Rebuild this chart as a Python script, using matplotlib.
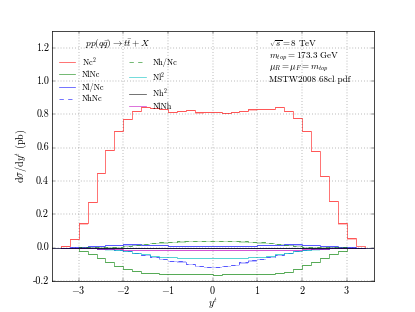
import numpy as np
import matplotlib
matplotlib.use("Agg")
import matplotlib.pyplot as plt

plt.style.use("classic")
plt.rcParams["font.family"] = "serif"
plt.rcParams["font.serif"] = ["cmr10", "DejaVu Serif"]
plt.rcParams["mathtext.fontset"] = "cm"
plt.rcParams["axes.formatter.use_mathtext"] = True

# bin edges in y^t (34 bins of width 0.2)
edges = np.linspace(-3.4, 3.4, 35)

nc2 = [0.012, 0.052, 0.145, 0.275, 0.450, 0.585, 0.700, 0.775, 0.822, 0.846,
       0.838, 0.834, 0.816, 0.822, 0.826, 0.812, 0.814, 0.816, 0.808, 0.814,
       0.822, 0.830, 0.834, 0.832, 0.846, 0.822, 0.778, 0.700, 0.583, 0.430,
       0.280, 0.145, 0.055, 0.012]
nlnc = [-0.002, -0.004, -0.018, -0.038, -0.064, -0.088, -0.111, -0.129, -0.143, -0.151,
        -0.155, -0.157, -0.158, -0.159, -0.159, -0.160, -0.158, -0.167, -0.160, -0.159,
        -0.159, -0.158, -0.158, -0.157, -0.153, -0.145, -0.127, -0.107, -0.087, -0.062,
        -0.038, -0.018, -0.004, -0.002]
nl_nc = [0.000, 0.001, 0.003, 0.007, 0.012, 0.016, 0.018, 0.019, 0.019, 0.018,
         0.016, 0.014, 0.012, 0.010, 0.009, 0.008, 0.008, 0.008, 0.008, 0.009,
         0.010, 0.012, 0.014, 0.016, 0.018, 0.019, 0.019, 0.018, 0.016, 0.012,
         0.007, 0.003, 0.001, 0.000]
nhnc = [0.000, -0.001, -0.002, -0.004, -0.006, -0.009, -0.013, -0.018, -0.030, -0.042,
        -0.056, -0.070, -0.082, -0.084, -0.100, -0.110, -0.117, -0.117, -0.110, -0.103,
        -0.090, -0.078, -0.068, -0.056, -0.042, -0.030, -0.018, -0.013, -0.009, -0.006,
        -0.004, -0.002, -0.001, 0.000]
nh_nc = [0.000, 0.000, 0.001, 0.002, 0.003, 0.004, 0.005, 0.009, 0.014, 0.020,
         0.026, 0.031, 0.035, 0.037, 0.038, 0.038, 0.039, 0.039, 0.038, 0.038,
         0.037, 0.035, 0.031, 0.026, 0.020, 0.014, 0.009, 0.005, 0.004, 0.003,
         0.002, 0.001, 0.000, 0.000]
nl2 = [0.000, -0.001, -0.002, -0.004, -0.007, -0.011, -0.016, -0.022, -0.030, -0.040,
       -0.048, -0.054, -0.058, -0.060, -0.062, -0.062, -0.063, -0.063, -0.062, -0.062,
       -0.060, -0.058, -0.054, -0.048, -0.040, -0.030, -0.022, -0.016, -0.011, -0.007,
       -0.004, -0.002, -0.001, 0.000]
nh2 = [0.000, 0.000, -0.001, -0.001, -0.001, -0.002, -0.002, -0.002, -0.003, -0.003,
       -0.003, -0.003, -0.003, -0.003, -0.003, -0.003, -0.003, -0.003, -0.003, -0.003,
       -0.003, -0.003, -0.003, -0.003, -0.003, -0.003, -0.002, -0.002, -0.002, -0.001,
       -0.001, -0.001, 0.000, 0.000]
nlnh = [0.000, -0.001, -0.002, -0.004, -0.006, -0.008, -0.010, -0.012, -0.014, -0.015,
        -0.016, -0.016, -0.016, -0.016, -0.016, -0.016, -0.016, -0.016, -0.016, -0.016,
        -0.016, -0.016, -0.016, -0.016, -0.015, -0.014, -0.012, -0.010, -0.008, -0.006,
        -0.004, -0.002, -0.001, 0.000]

series = [
    (nc2, r"Nc$^2$", "red", "-"),
    (nlnc, "NlNc", "green", "-"),
    (nl_nc, "Nl/Nc", "blue", "-"),
    (nhnc, "NhNc", "blue", "--"),
    (nh_nc, "Nh/Nc", "green", "--"),
    (nl2, r"Nl$^2$", "c", "-"),
    (nh2, r"Nh$^2$", "k", "-"),
    (nlnh, "NlNh", "m", "-"),
]

fig = plt.figure(figsize=(415 / 52, 312 / 52), dpi=52)
ax = fig.add_subplot(111)

ax.axhline(0, color="#000033", lw=1)
for vals, lab, col, ls in series:
    vals = np.array(vals)
    ax.fill_between(edges[:-1], vals - 0.007, vals, step="post", color=col,
                    alpha=0.25, lw=0)
    ax.stairs(vals, edges, color=col, ls=ls, lw=1, alpha=0.75, label=lab)

ax.set_xlim(-3.6, 3.6)
ax.set_ylim(-0.2, 1.3)
ax.set_xticks([-3, -2, -1, 0, 1, 2, 3])
ax.set_yticks(np.arange(-0.2, 1.21, 0.2))
ax.yaxis.set_major_formatter(matplotlib.ticker.FormatStrFormatter("%.1f"))
ax.tick_params(labelsize=14)
ax.tick_params(axis="x", pad=5)
ax.grid(True)
ax.set_xlabel(r"$y^t$", fontsize=14, labelpad=0)
ax.set_ylabel(r"$\mathrm{d}\sigma/\mathrm{d}y^t$ (pb)", fontsize=14)

ax.legend(loc="upper left", ncol=2, frameon=False, fontsize=11.5,
          title=r"$pp(q\bar{q}) \to t\bar{t} + X$", title_fontsize=13,
          handlelength=2, columnspacing=3.0, labelspacing=0.4,
          borderaxespad=0.4)

ax.text(0.675, 0.97,
        "$\\sqrt{s} = 8$ TeV\n$m_{top} = 173.3$ GeV\n$\\mu_R = \\mu_F = m_{top}$\nMSTW2008 68cl pdf",
        transform=ax.transAxes, va="top", ha="left", fontsize=12.5, linespacing=1.15)

fig.savefig("out.png", dpi=52)
